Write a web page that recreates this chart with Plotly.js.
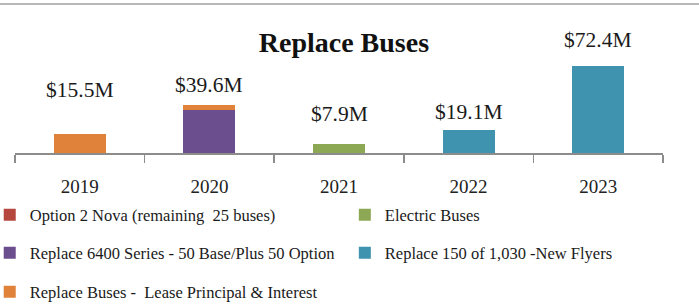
<!DOCTYPE html>
<html>
<head>
<meta charset="utf-8">
<script src="https://cdn.plot.ly/plotly-3.0.1.min.js"></script>
<style>html,body{margin:0;padding:0;background:#fff;}</style>
</head>
<body>
<div id="chart" style="width:699px;height:308px;"></div>
<script>
var years = ['2019', '2020', '2021', '2022', '2023'];
var novaOption2 = [0, 0, 0, 0, 0];
var electricBuses = [0, 0, 7.9, 0, 0];
var series6400 = [0, 35.8, 0, 0, 0];
var newFlyers = [0, 0, 0, 19.1, 72.4];
var leaseReplace = [15.5, 3.8, 0, 0, 0];
var totalLabels = ['$15.5M', '$39.6M', '$7.9M', '$19.1M', '$72.4M'];
var seriesNames = [
  'Option 2 Nova (remaining  25 buses)',
  'Electric Buses',
  'Replace 6400 Series - 50 Base/Plus 50 Option',
  'Replace 150 of 1,030 -New Flyers',
  'Replace Buses -  Lease Principal & Interest'
];
var seriesColors = ['#B5473F', '#8CA855', '#6B4E8D', '#3F93AE', '#E0823A'];
var seriesValues = [novaOption2, electricBuses, series6400, newFlyers, leaseReplace];

var FONT = '"Liberation Serif", "Times New Roman", serif';
var legendIds = ['legend', 'legend2', 'legend3', 'legend4', 'legend5'];

var traces = seriesValues.map(function (vals, i) {
  return {
    type: 'bar',
    x: years,
    y: vals,
    name: seriesNames[i],
    legend: legendIds[i],
    marker: {color: seriesColors[i], line: {width: 0}},
    hoverinfo: 'skip'
  };
});

var totals = years.map(function (_, j) {
  var s = 0;
  seriesValues.forEach(function (v) { s += v[j]; });
  return s;
});
var labelShift = [44, 20, 30, 18, 26];
var annotations = years.map(function (yr, j) {
  return {
    x: j, y: totals[j], xref: 'x', yref: 'y',
    text: totalLabels[j], showarrow: false,
    yanchor: 'middle', yshift: labelShift[j],
    font: {family: FONT, size: 21.5, color: '#1a1a1a'}
  };
});

// legend placement: two columns, three rows (paper coords)
var colX = [-0.039, 0.509];
var rowY = [-0.434, -0.699, -0.972];
var cellCol = [0, 1, 0, 1, 0];
var cellRow = [0, 0, 1, 1, 2];

var layout = {
  width: 699, height: 308,
  margin: {l: 15, r: 36, t: 10, b: 155, autoexpand: false},
  paper_bgcolor: '#ffffff', plot_bgcolor: '#ffffff',
  barmode: 'stack', bargap: 0.6,
  showlegend: true,
  title: {
    text: '<b>Replace Buses</b>',
    x: 0.492, xref: 'container', xanchor: 'center',
    y: 0.864, yref: 'container', yanchor: 'middle',
    font: {family: FONT, size: 28, color: '#111'}
  },
  xaxis: {
    type: 'category', range: [-0.5, 4.5],
    showline: true, linecolor: '#8c8c8c', linewidth: 1.5,
    ticks: 'outside', tickson: 'boundaries', ticklen: 8, tickcolor: '#8c8c8c', tickwidth: 1.5,
    ticklabelstandoff: 16,
    tickfont: {family: FONT, size: 19, color: '#222'},
    showgrid: false, zeroline: false, fixedrange: true
  },
  yaxis: {
    range: [0, 119.2], visible: false, showgrid: false, zeroline: false, fixedrange: true
  },
  annotations: annotations,
  shapes: [{
    type: 'line', xref: 'paper', yref: 'paper',
    x0: -0.03, x1: 1.06, y0: 1.042, y1: 1.042,
    line: {color: '#a0a0a0', width: 1.5}
  }]
};

legendIds.forEach(function (id, i) {
  layout[id] = {
    orientation: 'v',
    x: colX[cellCol[i]], xanchor: 'left',
    y: rowY[cellRow[i]], yanchor: 'middle',
    font: {family: FONT, size: 16.5, color: '#1a1a1a'},
    bgcolor: 'rgba(0,0,0,0)'
  };
});

Plotly.newPlot('chart', traces, layout, {displayModeBar: false, staticPlot: true});
</script>
</body>
</html>
